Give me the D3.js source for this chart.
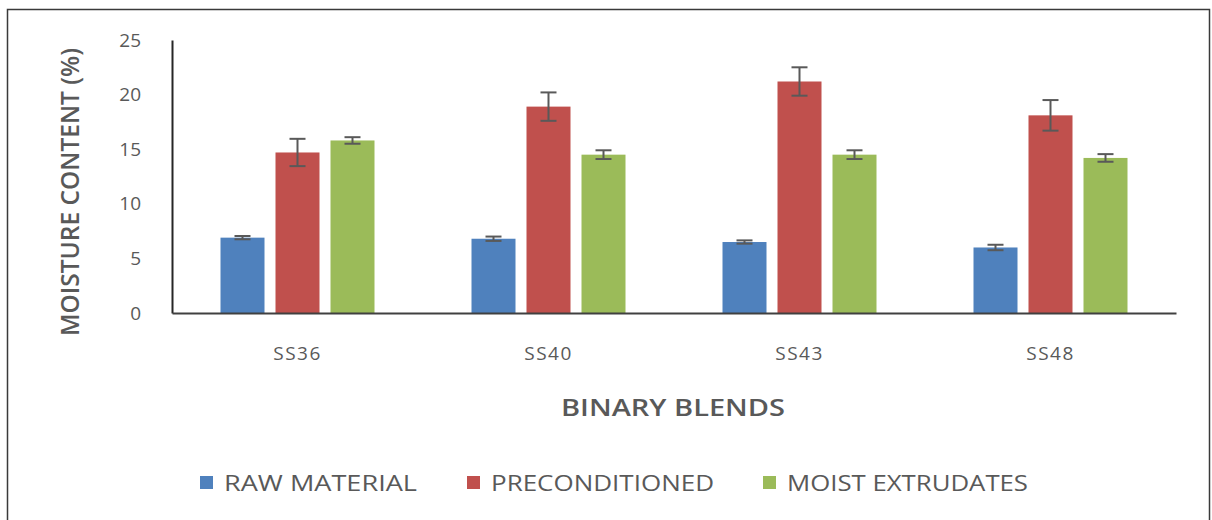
<!DOCTYPE html>
<html lang="en">
<head>
<meta charset="UTF-8">
<title>Moisture content</title>
<style>
    body { margin: 0; background: #fff; }
    text { font-family: "Open Sans", sans-serif; fill: #595959; }
</style>
</head>
<body>
<svg id="chart" width="1212" height="520"></svg>

<script src="https://cdn.jsdelivr.net/npm/d3@7"></script>
<script>
    // data
    let blends = ["SS36", "SS40", "SS43", "SS48"]
    let series = ["RAW MATERIAL", "PRECONDITIONED", "MOIST EXTRUDATES"]
    let rawMaterial = [6.9, 6.8, 6.5, 6.0]
    let rawErr = [0.15, 0.2, 0.15, 0.25]
    let preconditioned = [14.7, 18.9, 21.2, 18.1]
    let precondErr = [1.25, 1.3, 1.3, 1.4]
    let moistExtrudates = [15.8, 14.5, 14.5, 14.2]
    let moistErr = [0.3, 0.4, 0.4, 0.35]
    let yTicks = [0, 5, 10, 15, 20, 25]
    let colors = ["#4F81BD", "#C0504D", "#9BBB59"]

    let values = [rawMaterial, preconditioned, moistExtrudates]
    let errors = [rawErr, precondErr, moistErr]

    let rows = []
    blends.forEach((b, i) => {
        series.forEach((s, j) => {
            rows.push({ blend: b, series: s, value: values[j][i], err: errors[j][i], color: colors[j] })
        })
    })

    let svg = d3.select("#chart")

    // outer frame
    svg.append("rect")
        .attr("x", 7.5).attr("y", 9.5)
        .attr("width", 1202).attr("height", 520)
        .attr("fill", "none")
        .attr("stroke", "#3a3a3a")
        .attr("stroke-width", 1.5)

    let plotLeft = 172, plotRight = 1176, plotTop = 40, plotBottom = 313

    let x0 = d3.scaleBand().domain(blends).range([plotLeft, plotRight])
    let x1 = d3.scaleBand().domain(series).range([-77, 77]).paddingInner(0.2)
    let y = d3.scaleLinear().domain([0, 25]).range([plotBottom, plotTop])

    // bars
    svg.append("g").selectAll("rect")
        .data(rows)
        .enter()
        .append("rect")
        .attr("x", d => x0(d.blend) + x0.bandwidth() / 2 + x1(d.series))
        .attr("y", d => y(d.value))
        .attr("width", x1.bandwidth())
        .attr("height", d => y(0) - y(d.value))
        .attr("fill", d => d.color)

    // error bars
    let eb = svg.append("g")
        .attr("stroke", "#595959")
        .attr("stroke-width", 2)
        .selectAll("g")
        .data(rows)
        .enter()
        .append("g")
        .attr("transform", d => `translate(${x0(d.blend) + x0.bandwidth() / 2 + x1(d.series) + x1.bandwidth() / 2},0)`)

    eb.append("line")
        .attr("y1", d => y(d.value + d.err)).attr("y2", d => y(d.value - d.err))
    eb.append("line")
        .attr("x1", -8).attr("x2", 8)
        .attr("y1", d => y(d.value + d.err)).attr("y2", d => y(d.value + d.err))
    eb.append("line")
        .attr("x1", -8).attr("x2", 8)
        .attr("y1", d => y(d.value - d.err)).attr("y2", d => y(d.value - d.err))

    // y axis
    let yAxis = svg.append("g")
        .attr("transform", `translate(${plotLeft},0)`)
        .call(d3.axisLeft(y).tickValues(yTicks).tickSize(0).tickPadding(31))
    yAxis.select(".domain").attr("stroke", "#262626").attr("stroke-width", 2)
    yAxis.selectAll("text")
        .attr("font-family", "Open Sans")
        .attr("font-size", 19)
        .attr("fill", "#595959")

    // x axis
    let xAxis = svg.append("g")
        .attr("transform", `translate(0,${plotBottom})`)
        .call(d3.axisBottom(x0).tickSize(0).tickSizeOuter(0).tickPadding(34))
    xAxis.select(".domain").attr("stroke", "#404040").attr("stroke-width", 2)
    xAxis.selectAll("text")
        .attr("font-family", "Open Sans")
        .attr("font-size", 19)
        .attr("letter-spacing", 1.5)
        .attr("fill", "#595959")

    // axis titles
    svg.append("text")
        .attr("transform", "translate(79,192) rotate(-90)")
        .attr("text-anchor", "middle")
        .attr("font-size", 26)
        .attr("font-weight", 600)
        .attr("textLength", 288)
        .attr("lengthAdjust", "spacingAndGlyphs")
        .text("MOISTURE CONTENT (%)")

    svg.append("text")
        .attr("x", 673).attr("y", 416)
        .attr("text-anchor", "middle")
        .attr("font-size", 24)
        .attr("font-weight", 600)
        .attr("textLength", 224)
        .attr("lengthAdjust", "spacingAndGlyphs")
        .text("BINARY BLENDS")

    // legend
    let legendX = [200, 467, 763]
    let legendW = [193, 223, 241]
    let lg = svg.append("g").selectAll("g")
        .data(series)
        .enter()
        .append("g")
        .attr("transform", (d, i) => `translate(${legendX[i]},483)`)
    lg.append("rect")
        .attr("x", 0).attr("y", -7)
        .attr("width", 13).attr("height", 13)
        .attr("fill", (d, i) => colors[i])
    lg.append("text")
        .attr("x", 24).attr("y", 8)
        .attr("font-size", 21)
        .attr("textLength", (d, i) => legendW[i])
        .attr("lengthAdjust", "spacingAndGlyphs")
        .text(d => d)
</script>
</body>
</html>
